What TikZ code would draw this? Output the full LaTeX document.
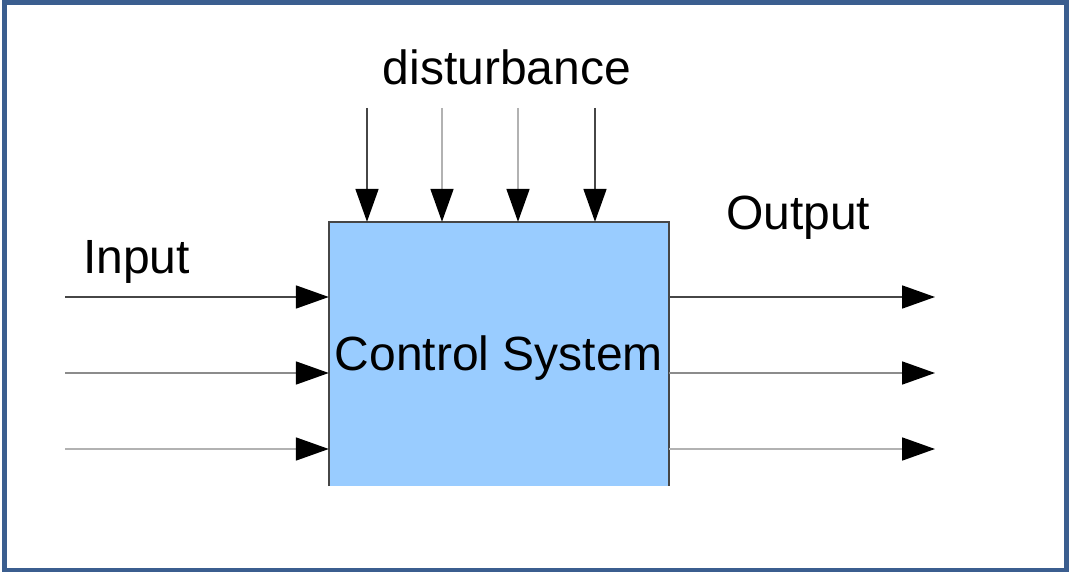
\documentclass[tikz,border=0pt]{standalone}
\usepackage{fontspec}
\setmainfont{Liberation Sans}
\usetikzlibrary{calc,arrows.meta}

\definecolor{framblue}{RGB}{59,94,143}
\definecolor{sysblue}{RGB}{153,204,255}
\definecolor{sigdark}{RGB}{70,70,70}
\definecolor{sigmid}{RGB}{140,140,140}
\definecolor{siglight}{RGB}{178,178,178}

\begin{document}
\begin{tikzpicture}[x=1pt,y=-1pt,
  sig/.style={line width=1.8pt,-{Triangle[length=33pt,width=23pt,color=black]}},
  lbl/.style={inner sep=0pt,font=\fontsize{48}{58}\selectfont}]
\useasboundingbox (0,0) rectangle (1069,572);
% frame
\draw[framblue,line width=4.5pt] (4.5,2.5) rectangle (1066.5,570);

% Control System block
\node[fill=sysblue,minimum width=340pt,minimum height=264pt,inner sep=0pt,
  text height=33pt,text depth=0pt,font=\fontsize{48}{58}\selectfont]
  (sys) at (499,354) {Control System};
\draw[sigdark,line width=1.5pt] (sys.south west) -- (sys.north west) -- (sys.north east) -- (sys.south east);

% Inputs
\coordinate (in1) at (65,297);
\coordinate (in2) at (65,373);
\coordinate (in3) at (65,449);
\draw[sig,sigdark] (in1) -- (in1 -| sys.west);
\draw[sig,sigmid] (in2) -- (in2 -| sys.west);
\draw[sig,siglight] (in3) -- (in3 -| sys.west);
\node[lbl,anchor=base west] (inlbl) at (83,274) {Input};

% Outputs
\coordinate (out1) at (935,297);
\coordinate (out2) at (935,373);
\coordinate (out3) at (935,449);
\draw[sig,sigdark] (out1 -| sys.east) -- (out1);
\draw[sig,sigmid] (out2 -| sys.east) -- (out2);
\draw[sig,siglight] (out3 -| sys.east) -- (out3);
\node[lbl,anchor=base west] (outlbl) at (726,230) {Output};

% Disturbance
\coordinate (d1) at (367,108);
\coordinate (d2) at (442,108);
\coordinate (d3) at (518,108);
\coordinate (d4) at (595,108);
\draw[sig,sigdark] (d1) -- (d1 |- sys.north);
\draw[sig,siglight] (d2) -- (d2 |- sys.north);
\draw[sig,siglight] (d3) -- (d3 |- sys.north);
\draw[sig,sigdark] (d4) -- (d4 |- sys.north);
\node[lbl,anchor=base] (dlbl) at (507,85) {disturbance};
\end{tikzpicture}
\end{document}
